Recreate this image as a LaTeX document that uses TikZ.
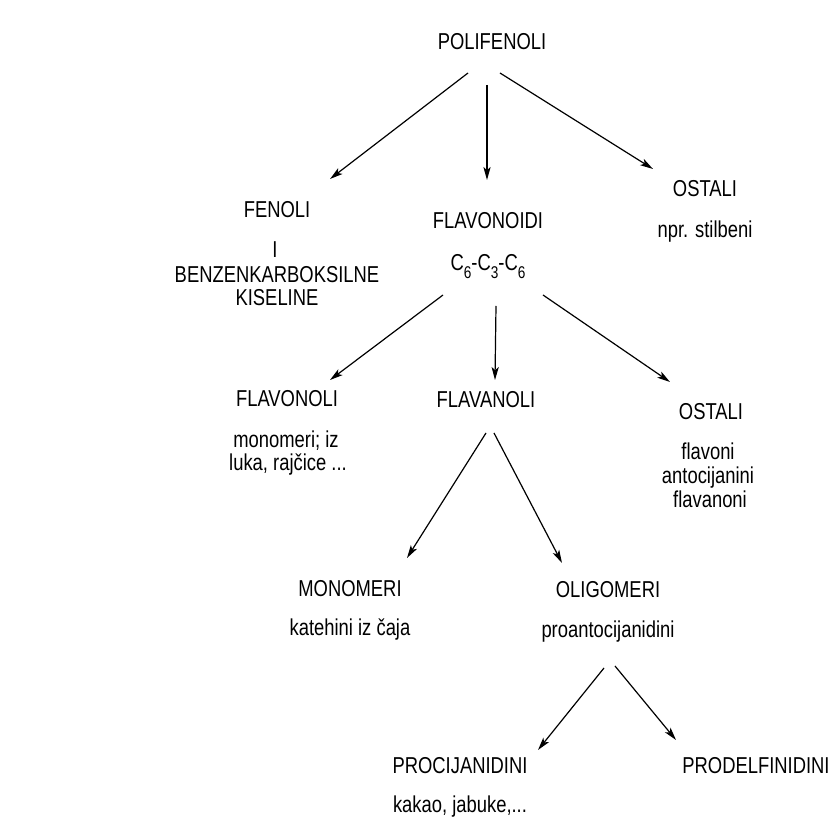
\documentclass[tikz,border=0pt]{standalone}
\usepackage{fontspec}
\setmainfont{Liberation Sans}[FakeStretch=0.80]
\usetikzlibrary{arrows.meta,calc}
\newcommand{\sbs}[1]{\raisebox{-4pt}{\fontsize{8.5}{10}\selectfont #1}}
\begin{document}
\begin{tikzpicture}[x=0.5pt,y=-0.5pt,
  lbl/.style={anchor=base,inner sep=0pt,outer sep=0pt,font=\fontsize{11.5}{13.8}\selectfont},
  arr/.style={-{Stealth[length=6.5pt,width=3.6pt,inset=1.6pt]},line width=0.6pt}]
\useasboundingbox (0,0) rectangle (832,823);
% level 0
\node[lbl] (pol) at (492,50) {POLIFENOLI};
% level 1
\node[lbl] (fen) at (277,218) {FENOLI};
\node[lbl] (fenbar) at (275,258) {I};
\node[lbl] (benz) at (277,283) {BENZENKARBOKSILNE};
\node[lbl] (kis) at (277,306) {KISELINE};
\node[lbl] (flav) at (488,229) {FLAVONOIDI};
\node[lbl] (c6) at (488,271) {C\sbs{6}-C\sbs{3}-C\sbs{6}};
\node[lbl] (ost1) at (705,197) {OSTALI};
\node[lbl] (stil) at (705,238) {npr. stilbeni};
% level 2
\node[lbl] (flavonoli) at (287,407) {FLAVONOLI};
\node[lbl] (mono1) at (286,448) {monomeri; iz};
\node[lbl] (mono2) at (288,471) {luka, rajčice ...};
\node[lbl] (flavanoli) at (486,408) {FLAVANOLI};
\node[lbl] (ost2) at (711,420) {OSTALI};
\node[lbl] (fvn) at (708,460) {flavoni};
\node[lbl] (ant) at (708,484) {antocijanini};
\node[lbl] (fvnn) at (710,508) {flavanoni};
% level 3
\node[lbl] (mono) at (350,597) {MONOMERI};
\node[lbl] (kat) at (350,636) {katehini iz čaja};
\node[lbl] (olig) at (608,598) {OLIGOMERI};
\node[lbl] (proanto) at (608,638) {proantocijanidini};
% level 4
\node[lbl] (procij) at (460,774) {PROCIJANIDINI};
\node[lbl] (kak) at (460,813) {kakao, jabuke,...};
\node[lbl] (prodelf) at (756,774) {PRODELFINIDINI};
% connectors
\draw[arr] ($(pol.base)+(-24,23)$) -- ($(fen.base)+(53,-39)$);
\draw[arr] ($(pol.base)+(-5,35)$) -- ($(flav.base)+(-1,-49)$);
\draw[arr] ($(pol.base)+(8,23)$) -- ($(ost1.base)+(-52,-28)$);
\draw[arr] ($(c6.base)+(-45,24)$) -- ($(flavonoli.base)+(43,-27)$);
\draw[arr] ($(c6.base)+(8,35)$) -- ($(flavanoli.base)+(9,-28)$);
\draw[arr] ($(c6.base)+(55,24)$) -- ($(ost2.base)+(-41,-38)$);
\draw[arr] ($(flavanoli.base)+(0,25)$) -- ($(mono.base)+(57,-39)$);
\draw[arr] ($(flavanoli.base)+(8,25)$) -- ($(olig.base)+(-46,-35)$);
\draw[arr] ($(proanto.base)+(-4,30)$) -- ($(procij.base)+(78,-24)$);
\draw[arr] ($(proanto.base)+(7,28)$) -- ($(prodelf.base)+(-80,-34)$);
\end{tikzpicture}
\end{document}
